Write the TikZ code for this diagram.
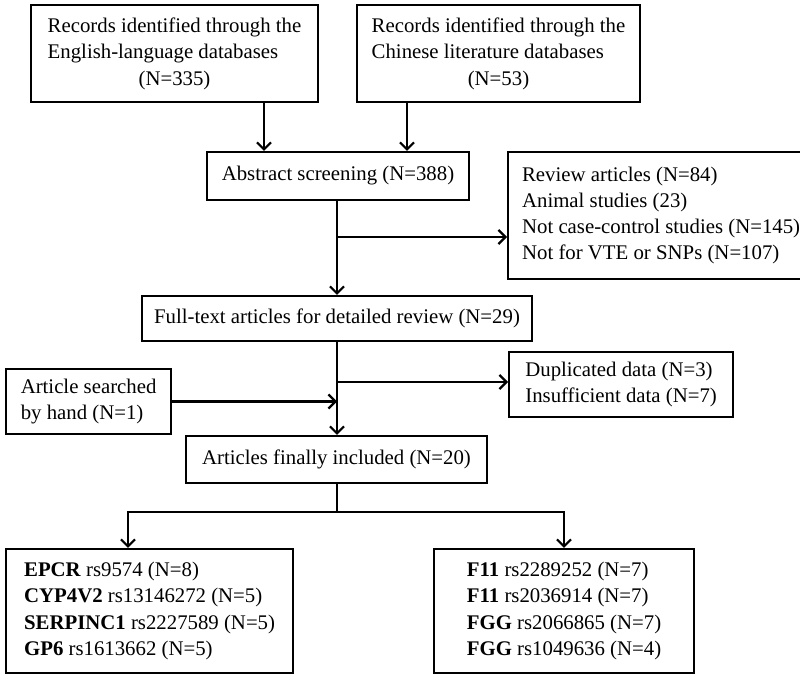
\documentclass[tikz,border=0pt]{standalone}
\usepackage{fontspec}
\setmainfont{Liberation Serif}
\usetikzlibrary{arrows.meta}
\newcommand\figfont{\fontsize{20.8}{26.3}\selectfont}
\begin{document}
\begin{tikzpicture}[x=1pt,y=-1pt,
  box/.style={draw, line width=2.2pt, inner ysep=0pt, inner xsep=0pt, font=\figfont},
  lbox/.style={box, anchor=west, align=left},
  arr/.style={line width=2.2pt, -{Straight Barb[length=7pt,width=14pt,line width=2.2pt]}},
  ln/.style={line width=2.2pt}]
\useasboundingbox (0,0) rectangle (800,677);

\node[box, minimum width=287pt, minimum height=97pt] (eng) at (174.5,53.5)
  {\begin{tabular}{@{}l@{}}Records identified through the\\English-language databases\\\multicolumn{1}{c}{(N=335)}\end{tabular}};
\node[box, minimum width=283pt, minimum height=97pt] (chn) at (498.5,53.5)
  {\begin{tabular}{@{}l@{}}Records identified through the\\Chinese literature databases\\\multicolumn{1}{c}{(N=53)}\end{tabular}};
\node[box, minimum width=262pt, minimum height=48pt] (abs) at (338,176) {Abstract screening (N=388)};
\node[lbox, inner xsep=14pt, minimum width=292pt, minimum height=127pt] (rev) at (507,215.5)
  {Review articles (N=84)\\Animal studies (23)\\Not case-control studies (N=145)\\Not for VTE or SNPs (N=107)};
\node[box, minimum width=390pt, minimum height=45pt] (full) at (337,318.5) {Full-text articles for detailed review (N=29)};
\node[lbox, inner xsep=13pt, minimum width=224pt, minimum height=65pt] (dup) at (508,384.5)
  {Duplicated data (N=3)\\Insufficient data (N=7)};
\node[lbox, inner xsep=13pt, minimum width=165pt, minimum height=65pt] (hand) at (5,401.5)
  {Article searched\\by hand (N=1)};
\node[box, minimum width=301pt, minimum height=47pt] (fin) at (336.5,459.5) {Articles finally included (N=20)};
\node[lbox, inner xsep=12pt, minimum width=287pt, minimum height=124pt] (lb) at (5,611)
  {\textbf{EPCR} rs9574 (N=8)\\\textbf{CYP4V2} rs13146272 (N=5)\\\textbf{SERPINC1} rs2227589 (N=5)\\\textbf{GP6} rs1613662 (N=5)};
\node[lbox, inner xsep=13pt, minimum width=260pt, minimum height=124pt] (rb) at (433,611)
  {\textbf{F11} rs2289252 (N=7)\\\textbf{F11} rs2036914 (N=7)\\\textbf{FGG} rs2066865 (N=7)\\\textbf{FGG} rs1049636 (N=4)};

\coordinate (c1) at (264,0);
\coordinate (c2) at (407,0);
\coordinate (m) at (337,0);
\coordinate (b1) at (337,237);
\coordinate (b2) at (337,382);
\coordinate (s) at (337,512);
\coordinate (lx) at (128,0);
\coordinate (rx) at (564,0);

\draw[arr] (c1 |- eng.south) -- (c1 |- abs.north);
\draw[arr] (c2 |- chn.south) -- (c2 |- abs.north);
\draw[arr] (m |- abs.south) -- (m |- full.north);
\draw[arr] (b1) -- (b1 -| rev.west);
\draw[arr] (m |- full.south) -- (m |- fin.north);
\draw[arr] (b2) -- (b2 -| dup.west);
\draw[arr] (hand.east) -- (hand.east -| m);
\draw[arr] (m |- fin.south) -- (s) -| (lx |- lb.north);
\draw[arr] (m |- fin.south) -- (s) -| (rx |- rb.north);
\end{tikzpicture}
\end{document}
